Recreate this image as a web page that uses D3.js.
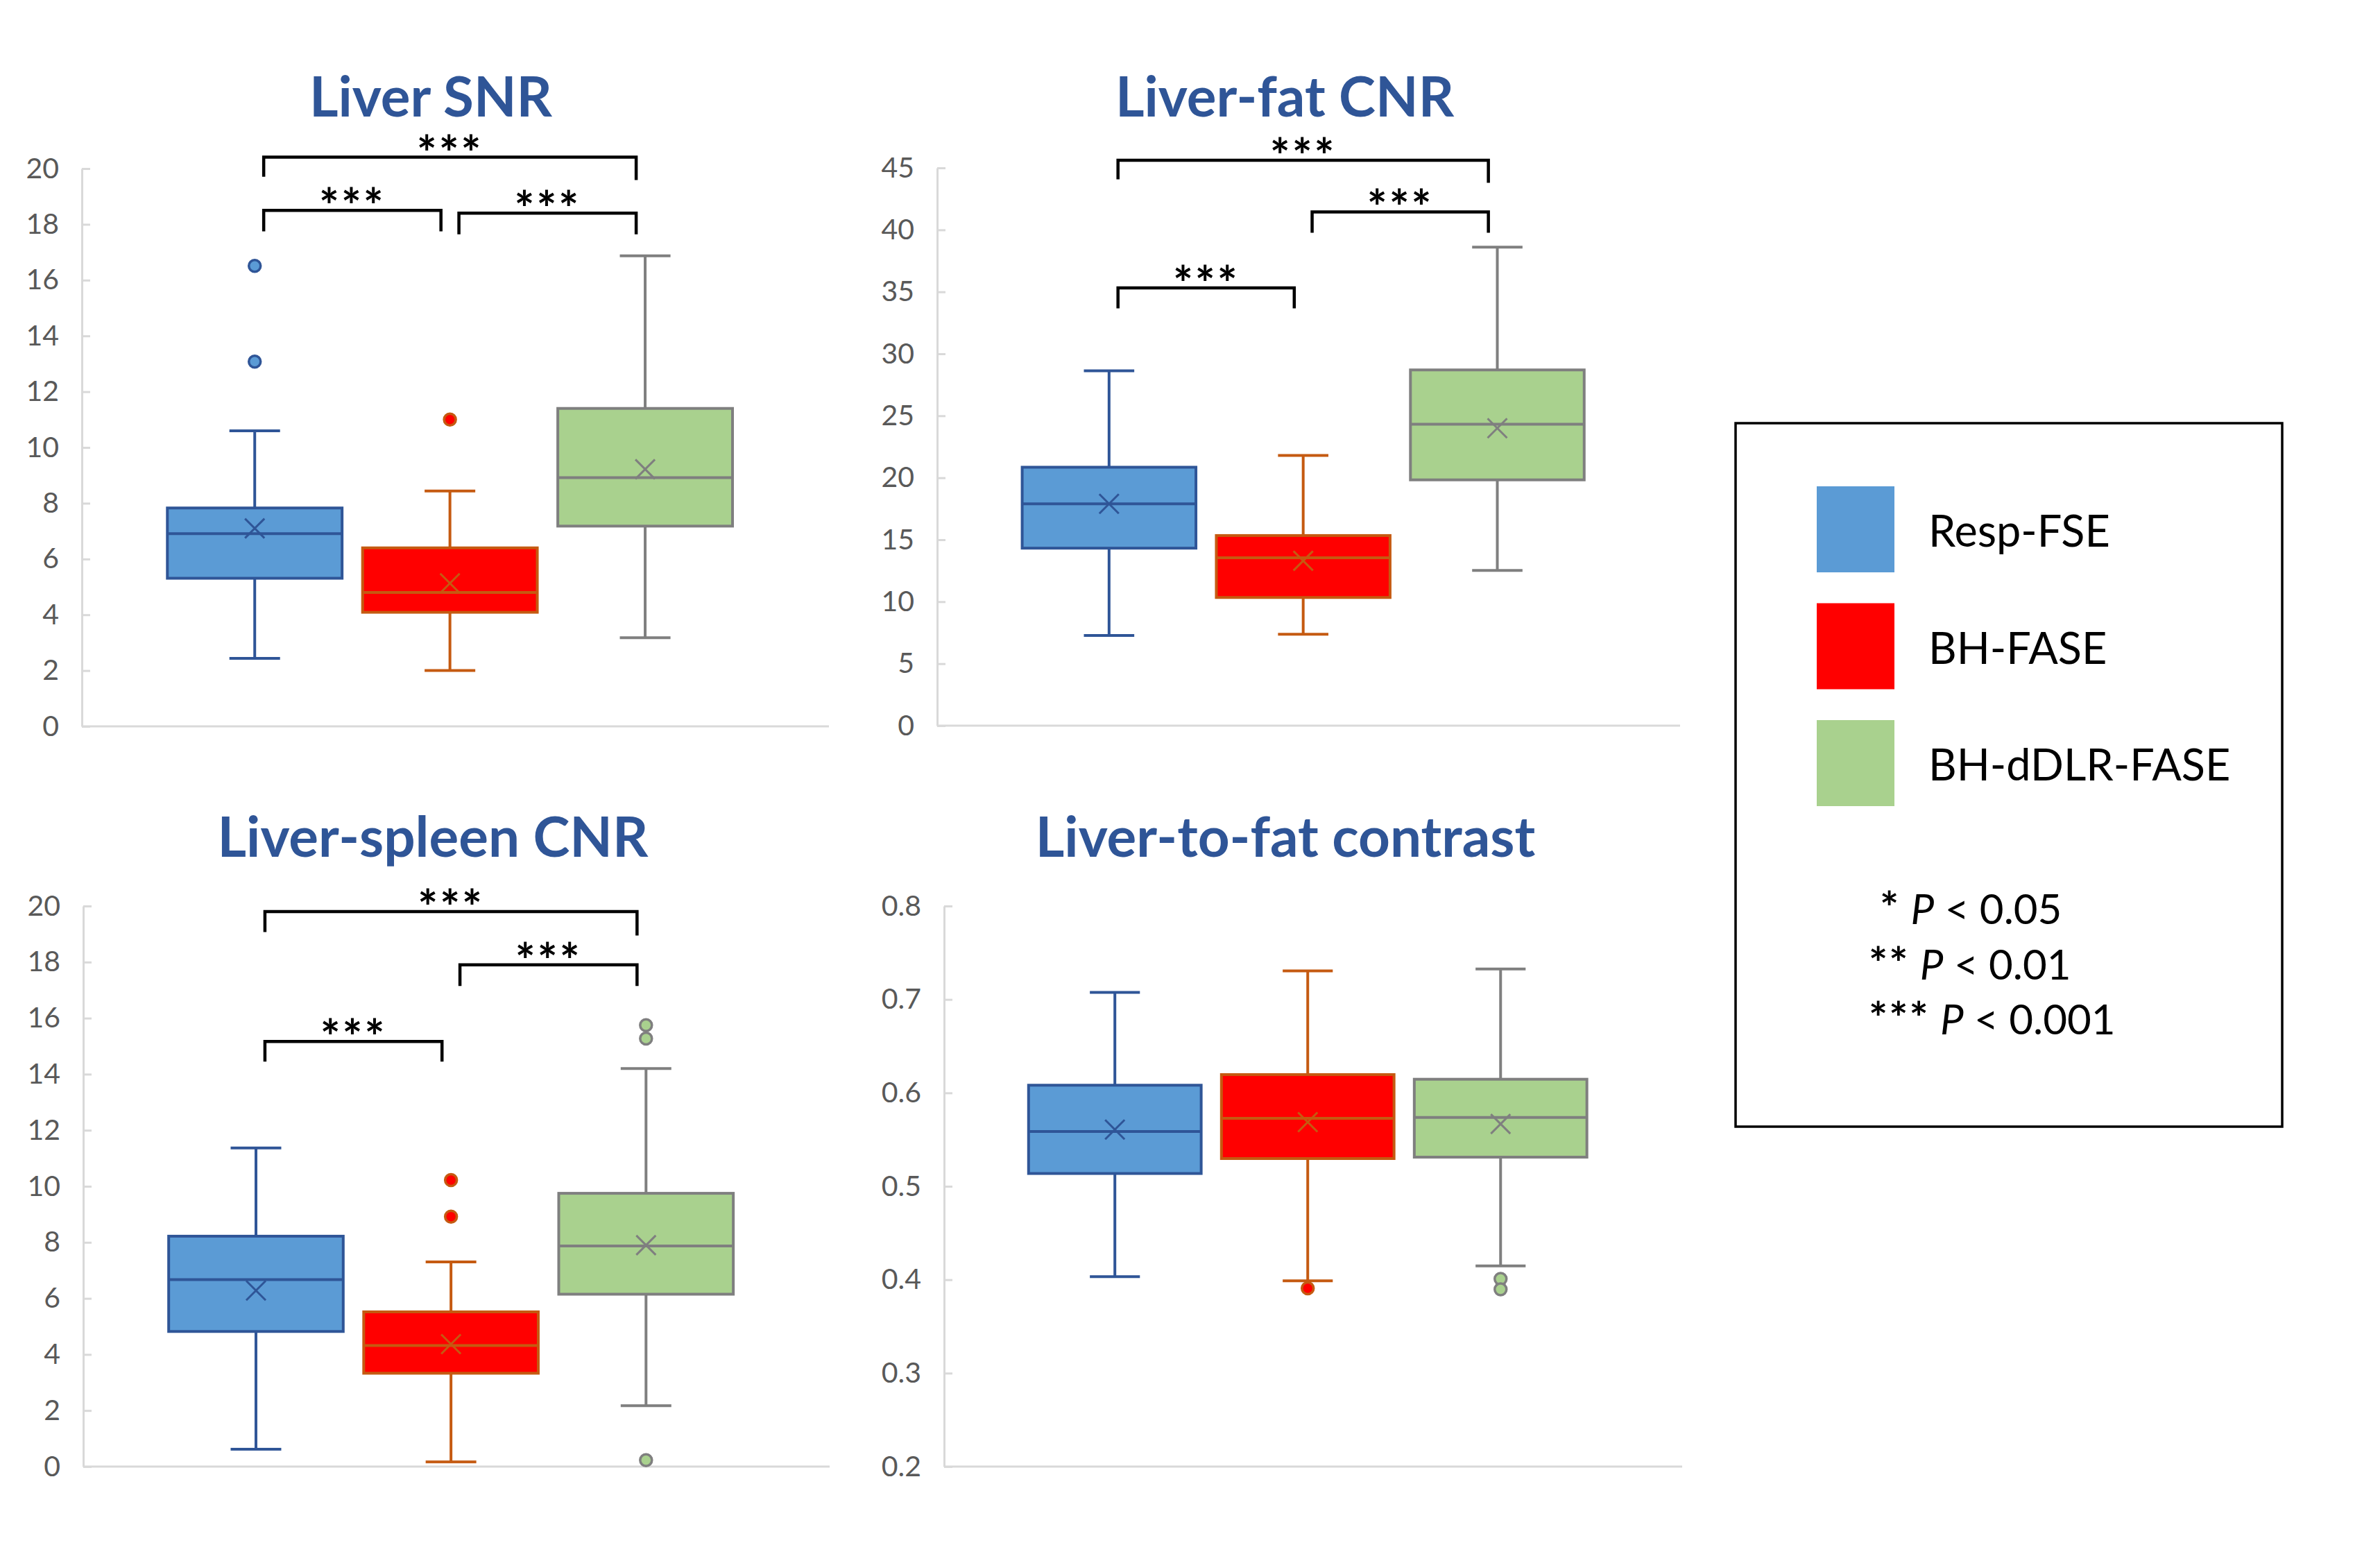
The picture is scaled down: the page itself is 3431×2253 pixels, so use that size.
<!DOCTYPE html>
<html><head><meta charset="utf-8">
<script src="https://cdn.jsdelivr.net/npm/d3@7"></script>
<style>body{margin:0;background:#fff}</style>
</head><body>
<svg id="chart"></svg>
<script>
// ---------- DATA ----------
const seriesNames = ["Resp-FSE", "BH-FASE", "BH-dDLR-FASE"];
const fillColors = ["#5B9BD5", "#FF0000", "#A9D18E"];
const strokeColors = ["#2F5597", "#C55A11", "#7F7F7F"];

// each box: [whiskerLow, Q1, median, Q3, whiskerHigh, mean]
const snrBoxes = [[2.44, 5.31, 6.91, 7.83, 10.6, 7.1], [2.0, 4.09, 4.8, 6.4, 8.44, 5.13], [3.18, 7.18, 8.92, 11.4, 16.87, 9.22]];
const snrOutliers = [[13.08, 16.51], [11.0], []];
const snrTicks = [0, 2, 4, 6, 8, 10, 12, 14, 16, 18, 20];
// brackets: [fromSeries, toSeries, level, dropFrom, dropTo]
const snrBrackets = [[0, 2, 20.41, 19.71, 19.59], [0, 1, 18.5, 17.75, 17.75], [1, 2, 18.4, 17.64, 17.64]];

const fatBoxes = [[7.27, 14.32, 17.9, 20.85, 28.63, 17.9], [7.38, 10.34, 13.55, 15.34, 21.8, 13.3], [12.53, 19.83, 24.32, 28.7, 38.6, 24.0]];
const fatOutliers = [[], [], []];
const fatTicks = [0, 5, 10, 15, 20, 25, 30, 35, 40, 45];
const fatBrackets = [[0, 2, 45.62, 44.08, 43.79], [1, 2, 41.45, 39.77, 39.77], [0, 1, 35.32, 33.67, 33.67]];

const spleenBoxes = [[0.62, 4.82, 6.67, 8.22, 11.37, 6.28], [0.17, 3.33, 4.32, 5.52, 7.3, 4.37], [2.17, 6.15, 7.87, 9.75, 14.2, 7.9]];
const spleenOutliers = [[], [8.92, 10.22], [15.27, 15.75, 0.23]];
const spleenTicks = [0, 2, 4, 6, 8, 10, 12, 14, 16, 18, 20];
const spleenBrackets = [[0, 2, 19.8, 19.07, 18.95], [1, 2, 17.9, 17.15, 17.15], [0, 1, 15.17, 14.45, 14.45]];

const contrastBoxes = [[0.4033, 0.5137, 0.5587, 0.6082, 0.7076, 0.5607], [0.3988, 0.5297, 0.5727, 0.6196, 0.7306, 0.5687], [0.4148, 0.5312, 0.5737, 0.6146, 0.7326, 0.5667]];
const contrastOutliers = [[], [0.3908], [0.4008, 0.3898]];
const contrastTicks = [0.2, 0.3, 0.4, 0.5, 0.6, 0.7, 0.8];
const contrastBrackets = [];

const titles = ["Liver SNR", "Liver-fat CNR", "Liver-spleen CNR", "Liver-to-fat contrast"];
const pLegend = [["*", " < 0.05"], ["**", " < 0.01"], ["***", " < 0.001"]];

// ---------- LAYOUT ----------
const W = 3431, H = 2253;
const svg = d3.select("#chart").attr("width", W).attr("height", H).attr("viewBox", `0 0 ${W} ${H}`);
svg.append("rect").attr("width", W).attr("height", H).attr("fill", "#fff");

const FONT = "Lato, 'Open Sans', sans-serif";

const panels = [
  {title: titles[0], boxes: snrBoxes, outliers: snrOutliers, ticks: snrTicks, brackets: snrBrackets,
   left: 118, right: 1195, top: 243, bottom: 1047, tx: 621, ty: 168, fmt: d3.format("d")},
  {title: titles[1], boxes: fatBoxes, outliers: fatOutliers, ticks: fatTicks, brackets: fatBrackets,
   left: 1351, right: 2422, top: 242, bottom: 1046, tx: 1852, ty: 168, fmt: d3.format("d")},
  {title: titles[2], boxes: spleenBoxes, outliers: spleenOutliers, ticks: spleenTicks, brackets: spleenBrackets,
   left: 120, right: 1196, top: 1306, bottom: 2114, tx: 624, ty: 1235, fmt: d3.format("d")},
  {title: titles[3], boxes: contrastBoxes, outliers: contrastOutliers, ticks: contrastTicks, brackets: contrastBrackets,
   left: 1361, right: 2425, top: 1306, bottom: 2114, tx: 1853, ty: 1235, fmt: d3.format(".1f")}
];

panels.forEach(p => {
  const g = svg.append("g");
  const y = d3.scaleLinear().domain(d3.extent(p.ticks)).range([p.bottom, p.top]);
  const x = d3.scaleBand().domain(d3.range(seriesNames.length)).range([p.left, p.right])
    .paddingInner(0.105).paddingOuter(0.466).align(0.47);
  const bw = x.bandwidth();
  const cx = i => x(i) + bw / 2;

  // title
  g.append("text").attr("x", p.tx).attr("y", p.ty).attr("text-anchor", "middle")
    .attr("font-family", FONT).attr("font-weight", 700).attr("font-size", 80)
    .attr("fill", "#2F5597").text(p.title);

  // y axis
  const ax = g.append("g").attr("transform", `translate(${p.left},0)`)
    .call(d3.axisLeft(y).tickValues(p.ticks).tickFormat(p.fmt).tickSizeInner(-12).tickSizeOuter(0).tickPadding(33));
  ax.select(".domain").attr("stroke", "#D9D9D9").attr("stroke-width", 3);
  ax.selectAll(".tick line").attr("stroke", "#D9D9D9").attr("stroke-width", 3);
  ax.selectAll(".tick text").attr("font-family", FONT).attr("font-size", 41).attr("fill", "#595959");

  // x axis line
  g.append("line").attr("x1", p.left).attr("x2", p.right).attr("y1", y(p.ticks[0])).attr("y2", y(p.ticks[0]))
    .attr("stroke", "#D9D9D9").attr("stroke-width", 3);

  // boxes
  p.boxes.forEach((b, i) => {
    const [lo, q1, med, q3, hi, mean] = b;
    const sc = strokeColors[i], fc = fillColors[i];
    const c = cx(i), cap = bw * 0.145;
    const bg = g.append("g").attr("stroke", sc).attr("stroke-width", 4).attr("fill", "none");
    bg.append("line").attr("x1", c).attr("x2", c).attr("y1", y(hi)).attr("y2", y(q3));
    bg.append("line").attr("x1", c).attr("x2", c).attr("y1", y(q1)).attr("y2", y(lo));
    bg.append("line").attr("x1", c - cap).attr("x2", c + cap).attr("y1", y(hi)).attr("y2", y(hi));
    bg.append("line").attr("x1", c - cap).attr("x2", c + cap).attr("y1", y(lo)).attr("y2", y(lo));
    bg.append("rect").attr("x", x(i)).attr("width", bw).attr("y", y(q3)).attr("height", y(q1) - y(q3)).attr("fill", fc);
    bg.append("line").attr("x1", x(i)).attr("x2", x(i) + bw).attr("y1", y(med)).attr("y2", y(med));
    const m = 14, my = y(mean);
    bg.append("line").attr("x1", c - m).attr("x2", c + m).attr("y1", my - m).attr("y2", my + m).attr("stroke-width", 3);
    bg.append("line").attr("x1", c - m).attr("x2", c + m).attr("y1", my + m).attr("y2", my - m).attr("stroke-width", 3);
    p.outliers[i].forEach(v => {
      bg.append("circle").attr("cx", c).attr("cy", y(v)).attr("r", 8.5).attr("fill", fc).attr("stroke-width", 3.5);
    });
  });

  // significance brackets
  const step = x.step(), inset = step * 0.046;
  p.brackets.forEach(br => {
    const [a, b, lev, dA, dB] = br;
    const xa = cx(a) + inset, xb = cx(b) - inset;
    g.append("path").attr("d", `M${xa},${y(dA)}V${y(lev)}H${xb}V${y(dB)}`)
      .attr("fill", "none").attr("stroke", "#000").attr("stroke-width", 4.5);
    g.append("text").attr("x", (xa + xb) / 2).attr("y", y(lev) + 19).attr("text-anchor", "middle")
      .attr("font-family", FONT).attr("font-weight", 700).attr("font-size", 68).attr("letter-spacing", 3)
      .attr("fill", "#000").text("***");
  });
});

// ---------- LEGEND ----------
const lg = svg.append("g");
lg.append("rect").attr("x", 2502).attr("y", 610).attr("width", 788).attr("height", 1014)
  .attr("fill", "none").attr("stroke", "#000").attr("stroke-width", 3.5);
const ly = d3.scalePoint().domain(d3.range(seriesNames.length)).range([763, 1100]);
seriesNames.forEach((s, i) => {
  lg.append("rect").attr("x", 2619).attr("y", ly(i) - 62).attr("width", 112).attr("height", 124).attr("fill", fillColors[i]);
  lg.append("text").attr("x", 2780).attr("y", ly(i) + 25).attr("font-family", FONT).attr("font-size", 63)
    .attr("fill", "#000").text(s);
});
const py = d3.scalePoint().domain(d3.range(pLegend.length)).range([1332, 1491]);
pLegend.forEach((t, i) => {
  const tx = lg.append("text").attr("x", i === 0 ? 2710 : 2694).attr("y", py(i)).attr("font-family", FONT)
    .attr("font-size", 60).attr("fill", "#000");
  tx.append("tspan").attr("font-size", 64).attr("font-weight", 700).attr("letter-spacing", 2).text(t[0]);
  tx.append("tspan").text(" ");
  tx.append("tspan").attr("font-style", "italic").text("P");
  tx.append("tspan").text(t[1]);
});
</script>
</body></html>
